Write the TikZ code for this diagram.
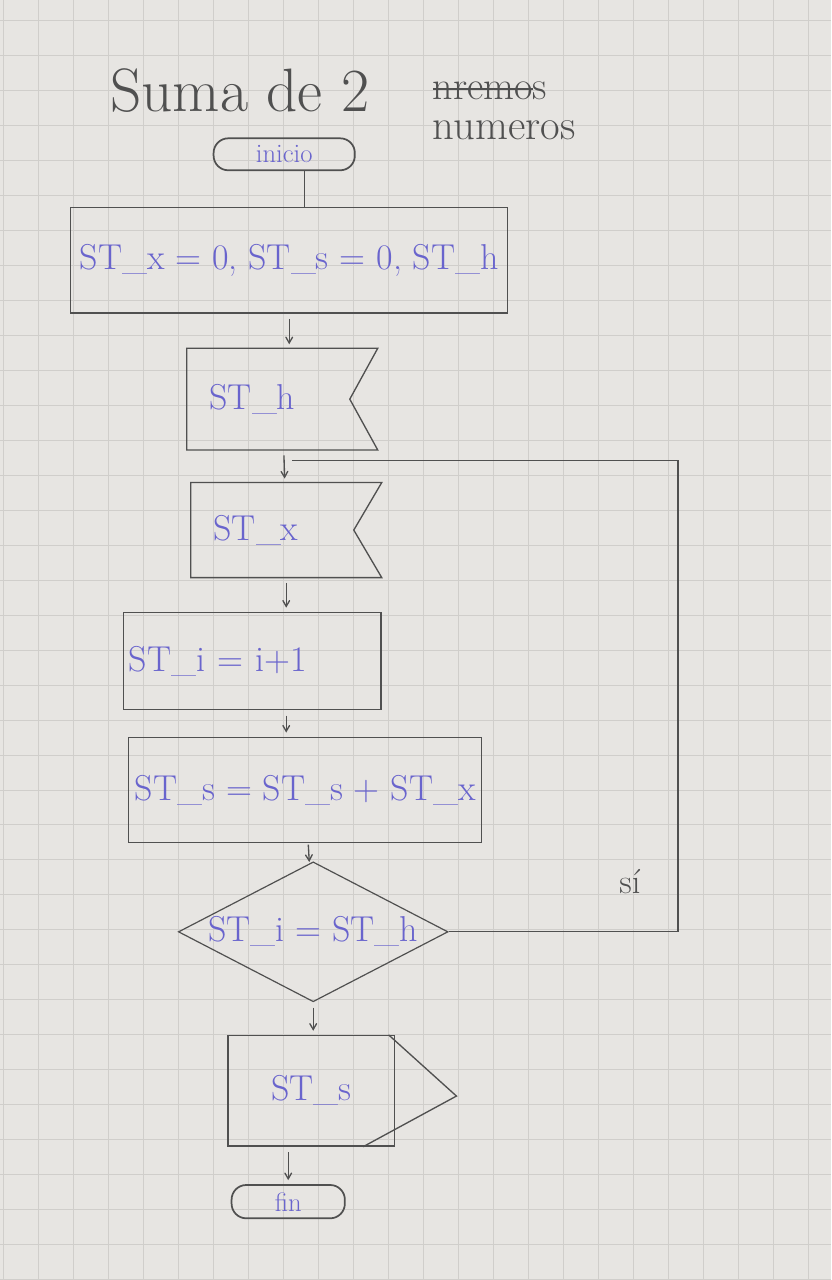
\documentclass[tikz,border=0pt]{standalone}
\usepackage{fontspec}
\usepackage{tikz}
\usetikzlibrary{shapes,arrows}

\definecolor{pen}{RGB}{80,80,80}
\definecolor{ink}{RGB}{105,100,205}
\definecolor{paper}{RGB}{231,229,226}
\definecolor{gridc}{RGB}{208,206,203}

\tikzset{
  gridln/.style={draw=gridc, line width=0.6pt},
  term/.style={draw=pen, line width=1.3pt, rounded corners=11pt, text=ink, inner sep=0pt, font=\fontsize{20}{22}\selectfont},
  proc/.style={draw=pen, line width=1pt, text=ink, inner sep=0pt, font=\fontsize{27}{30}\selectfont},
  inbox/.style={text=ink, inner xsep=17pt, text width=109pt, align=left, minimum width=143pt, font=\fontsize{27}{30}\selectfont},
  dec/.style={draw=pen, line width=0.9pt, diamond, aspect=2, inner sep=0pt, text=ink, font=\fontsize{27}{30}\selectfont},
  link/.style={draw=pen, line width=0.9pt},
  flow/.style={draw=pen, line width=1pt, ->, >=angle 60, shorten >=3pt, shorten <=4pt}
}

\begin{document}
\begin{tikzpicture}[x=0.75pt,y=0.75pt,yscale=-1,xscale=1]
% paper and grid
\fill[paper] (0,0) rectangle (831,1280);
\foreach \gx in {3,38,...,828} \draw[gridln] (\gx,0) -- (\gx,1280);
\foreach \gy in {20,55,...,1280} \draw[gridln] (0,\gy) -- (831,\gy);

% Title
\node[text=pen, anchor=west, font=\fontsize{46}{50}\selectfont] (title) at (105,90) {Suma de 2};
\node[text=pen, anchor=west, font=\fontsize{30}{32}\selectfont] (struck) at (428,90) {nremos};
\draw[pen, line width=1.2pt] ([xshift=4pt,yshift=-1pt]struck.west) -- ([xshift=-14pt,yshift=-1pt]struck.east);
\node[text=pen, anchor=west, font=\fontsize{32}{34}\selectfont] (subtitle) at (428,130) {numeros};

% Flow nodes
\node[term, minimum width=106pt, minimum height=24pt] (start) at (284,154) {inicio};
\node[proc, minimum width=328pt, minimum height=79pt] (init) at (289,260) {ST\_x = 0, ST\_s = 0, ST\_h};
\node[inbox, minimum height=76pt] (readh) at (282,399) {ST\_h};
\draw[pen, line width=1pt] (readh.north west) -- (readh.north east) -- ([xshift=-21pt]readh.east) -- (readh.south east) -- (readh.south west) -- cycle;
\node[inbox, minimum height=71pt] (readx) at (286,530) {ST\_x};
\draw[pen, line width=1pt] (readx.north west) -- (readx.north east) -- ([xshift=-21pt]readx.east) -- (readx.south east) -- (readx.south west) -- cycle;
\node[proc, minimum height=73pt, text width=185pt, inner xsep=4pt, align=left] (incr) at (252,661) {ST\_i = i+1};
\node[proc, minimum width=265pt, minimum height=79pt] (accum) at (305,790) {ST\_s = ST\_s + ST\_x};
\node[dec, minimum width=202pt, minimum height=105pt] (check) at (313,932) {ST\_i = ST\_h};
\node[proc, minimum width=125pt, minimum height=83pt] (show) at (311,1091) {ST\_s};
\draw[pen, line width=1pt] ([xshift=-5pt]show.north east) -- ([xshift=46pt,yshift=4pt]show.east) -- ([xshift=-24pt]show.south east);
\node[term, minimum width=85pt, minimum height=25pt] (stop) at (288,1202) {fin};

% Connectors
\draw[link] ([xshift=15pt]start.south) -- ([xshift=15pt]init.north -| start.south);
\draw[flow] (init) -- (readh.north -| init);
\draw[flow] (readh) -- (readx);
\draw[flow] (readx) -- (incr.north -| readx);
\draw[flow] (incr.south -| readx) -- (accum.north -| readx);
\draw[flow, shorten <=1pt, shorten >=1pt] (accum) -- (check);
\draw[flow] (check) -- (show.north -| check);
\draw[flow] (show.south -| stop) -- (stop);

% loop back
\coordinate (loopr) at (678,460);
\coordinate (join) at (292,460);
\draw[link] (check.east) -| (loopr) -- (join);
\node[text=pen, font=\fontsize{26}{28}\selectfont] (yes) at (630,882) {s\'{\i}};

\end{tikzpicture}
\end{document}
